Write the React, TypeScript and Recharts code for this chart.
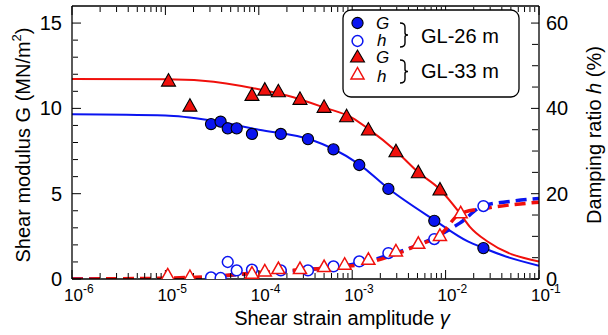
import { ComposedChart, Line, Scatter, XAxis, YAxis } from 'recharts'

const FONT = '"Liberation Sans", Arial, Helvetica, sans-serif'
const BLUE = '#0a14f0'
const RED = '#f0100c'

// strain axis (log), decades and minor marks
const strainTicks = [1e-6, 1e-5, 1e-4, 1e-3, 1e-2, 1e-1]
const minorSteps = [2, 3, 4, 5, 6, 7, 8, 9]
const strainMinor = strainTicks.slice(0, -1).flatMap((d) => minorSteps.map((m) => m * d))

const gTicks = [0, 5, 10, 15]
const gMinor = [1, 2, 3, 4, 6, 7, 8, 9, 11, 12, 13, 14]
const hTicks = [0, 20, 40, 60]
const hMinor = [5, 10, 15, 25, 30, 35, 45, 50, 55]

// GL-26 m measured points
const strain26 = [3.08e-5, 3.9e-5, 4.65e-5, 5.8e-5, 8.45e-5, 1.72e-4, 3.36e-4, 6.3e-4, 1.19e-3, 2.44e-3, 7.57e-3, 2.54e-2]
const g26 = [9.08, 9.22, 8.83, 8.83, 8.5, 8.5, 8.2, 7.6, 6.68, 5.28, 3.41, 1.81]
const h26 = [0.37, 0.23, 3.98, 2.01, 2.18, 2.01, 2.01, 2.95, 4.12, 6.08, 9.36, 17.1]

// GL-33 m measured points
const strain33G = [1.08e-5, 1.83e-5, 8.45e-5, 1.16e-4, 1.62e-4, 2.76e-4, 5.0e-4, 8.7e-4, 1.49e-3, 2.94e-3, 5.1e-3, 8.7e-3]
const g33 = [11.6, 10.13, 10.76, 11.07, 10.97, 10.53, 10.06, 9.51, 8.73, 7.46, 6.23, 5.22]
const strain33H = [1.06e-5, 1.83e-5, 8.45e-5, 1.16e-4, 1.62e-4, 2.76e-4, 5.0e-4, 8.3e-4, 1.49e-3, 2.94e-3, 5.1e-3, 8.7e-3, 1.45e-2]
const h33 = [0.84, 0.47, 1.24, 1.78, 2.34, 2.34, 2.81, 3.34, 4.51, 6.46, 8.26, 10.1, 15.4]

// fitted curves
const fitStrainG26 = [1e-6, 1e-5, 3e-5, 1e-4, 3.7e-4, 6.3e-4, 1.19e-3, 2.44e-3, 7.57e-3, 1.73e-2, 2.54e-2, 4.5e-2, 1e-1]
const fitG26 = [9.65, 9.58, 9.3, 8.75, 8.15, 7.62, 6.72, 5.3, 3.45, 2.2, 1.82, 1.3, 0.78]
const fitStrainG33 = [1e-6, 1e-5, 2.5e-5, 1e-4, 2e-4, 5e-4, 1e-3, 1.49e-3, 2.94e-3, 5.1e-3, 8.7e-3, 1.42e-2, 1.82e-2, 2.84e-2, 1e-1]
const fitG33 = [11.72, 11.7, 11.62, 11.12, 10.75, 10.05, 9.45, 8.8, 7.5, 6.25, 5.25, 3.86, 3.06, 2.18, 1.02]
const fitStrainH26 = [1e-6, 1e-5, 2.5e-5, 5e-5, 1e-4, 3e-4, 1e-3, 2.5e-3, 7.4e-3, 1.42e-2, 2.54e-2, 5e-2, 1e-1]
const fitH26 = [0, 0, 0.2, 0.9, 1.4, 2.1, 3.4, 5.6, 9.6, 13.1, 17.2, 18.2, 18.9]
const fitStrainH33 = [1e-6, 1e-5, 3e-5, 1e-4, 3e-4, 1e-3, 3e-3, 5e-3, 8.7e-3, 1.45e-2, 2.75e-2, 1e-1]
const fitH33 = [0, 0.2, 0.6, 1.5, 2.2, 3.1, 5.9, 7.9, 10.3, 15.4, 16.6, 18.0]

const pts = (xs: number[], ys: number[]) => xs.map((x, i) => ({ x, y: ys[i] }))

const FilledCircle = (p: any) => (
  <circle cx={p.cx} cy={p.cy} r={5.6} fill={BLUE} stroke="#000" strokeWidth={1.1} />
)
const OpenCircle = (p: any) => (
  <circle cx={p.cx} cy={p.cy} r={5.4} fill="#fff" stroke={BLUE} strokeWidth={1.5} />
)
const FilledTriangle = (p: any) => (
  <polygon
    points={`${p.cx},${p.cy - 7.5} ${p.cx - 7},${p.cy + 5} ${p.cx + 7},${p.cy + 5}`}
    fill={RED}
    stroke="#000"
    strokeWidth={1.1}
  />
)
const OpenTriangle = (p: any) => (
  <polygon
    points={`${p.cx},${p.cy - 7} ${p.cx - 6.5},${p.cy + 4.5} ${p.cx + 6.5},${p.cy + 4.5}`}
    fill="#fff"
    stroke={RED}
    strokeWidth={1.5}
  />
)

const NoLabel = () => <g />

// "10" sits on the tick, exponent hangs to the right
const StrainTick = ({ x, y, payload }: any) => {
  const exp = Math.round(Math.log10(payload.value))
  return (
    <text x={x - 8} y={y + 14} textAnchor="start" fontFamily={FONT} fontSize={17} fill="#000">
      <tspan>10</tspan>
      <tspan dy={-8} fontSize={12}>
        {String(exp)}
      </tspan>
    </text>
  )
}

const Brace = ({ y1, y2 }: { y1: number; y2: number }) => {
  const m = (y1 + y2) / 2
  return (
    <path
      d={`M400,${y1} Q405,${y1} 405,${y1 + 4} L405,${m - 2} Q405,${m} 408,${m} Q405,${m} 405,${m + 2} L405,${y2 - 4} Q405,${y2} 400,${y2}`}
      fill="none"
      stroke="#000"
      strokeWidth={1.4}
    />
  )
}

const inTick = { stroke: '#000', strokeWidth: 1 }

export default function App() {
  const tickStyle = { fill: '#000', fontSize: 20, fontFamily: FONT }
  return (
    <div style={{ position: 'absolute', left: 0, top: 0, width: 608, height: 335, background: '#fff' }}>
      <ComposedChart width={608} height={335} margin={{ top: 6, right: 0, bottom: 0, left: 0 }}>
        <XAxis
          xAxisId="main"
          dataKey="x"
          type="number"
          scale="log"
          domain={[1e-6, 1e-1]}
          allowDataOverflow
          ticks={strainTicks}
          interval={0}
          height={56}
          tickLine={false}
          axisLine={{ stroke: '#000', strokeWidth: 1.3 }}
          tick={<StrainTick />}
        />
        <XAxis xAxisId="bMaj" dataKey="x" type="number" scale="log" domain={[1e-6, 1e-1]} allowDataOverflow
          ticks={strainTicks} interval={0} mirror height={1} tick={NoLabel} axisLine={false} tickSize={9}
          tickLine={inTick} />
        <XAxis xAxisId="bMin" dataKey="x" type="number" scale="log" domain={[1e-6, 1e-1]} allowDataOverflow
          ticks={strainMinor} interval={0} mirror height={1} tick={NoLabel} axisLine={false} tickSize={5}
          tickLine={inTick} />
        <XAxis xAxisId="tMaj" orientation="top" dataKey="x" type="number" scale="log" domain={[1e-6, 1e-1]}
          allowDataOverflow ticks={strainTicks} interval={0} mirror height={1} tick={NoLabel}
          axisLine={{ stroke: '#000', strokeWidth: 1.3 }} tickSize={9} tickLine={inTick} />
        <XAxis xAxisId="tMin" orientation="top" dataKey="x" type="number" scale="log" domain={[1e-6, 1e-1]}
          allowDataOverflow ticks={strainMinor} interval={0} mirror height={1} tick={NoLabel} axisLine={false}
          tickSize={5} tickLine={inTick} />

        <YAxis
          yAxisId="G"
          dataKey="y"
          type="number"
          domain={[0, 16]}
          allowDataOverflow
          ticks={gTicks}
          interval={0}
          width={72}
          tickLine={false}
          tickMargin={4}
          axisLine={{ stroke: '#000', strokeWidth: 1.3 }}
          tick={tickStyle}
        />
        <YAxis yAxisId="gMaj" type="number" domain={[0, 16]} allowDataOverflow ticks={gTicks} interval={0}
          mirror width={1} tick={NoLabel} axisLine={false} tickSize={9} tickLine={inTick} />
        <YAxis yAxisId="gMin" type="number" domain={[0, 16]} allowDataOverflow ticks={gMinor} interval={0}
          mirror width={1} tick={NoLabel} axisLine={false} tickSize={5} tickLine={inTick} />
        <YAxis
          yAxisId="h"
          orientation="right"
          dataKey="y"
          type="number"
          domain={[0, 64]}
          allowDataOverflow
          ticks={hTicks}
          interval={0}
          width={69}
          tickLine={false}
          tickMargin={1}
          axisLine={{ stroke: '#000', strokeWidth: 1.3 }}
          tick={tickStyle}
        />
        <YAxis yAxisId="hMaj" orientation="right" type="number" domain={[0, 64]} allowDataOverflow ticks={hTicks}
          interval={0} mirror width={1} tick={NoLabel} axisLine={false} tickSize={8} tickLine={inTick} />
        <YAxis yAxisId="hMin" orientation="right" type="number" domain={[0, 64]} allowDataOverflow ticks={hMinor}
          interval={0} mirror width={1} tick={NoLabel} axisLine={false} tickSize={6} tickLine={inTick} />

        <Line xAxisId="main" yAxisId="G" data={pts(fitStrainG33, fitG33)} dataKey="y" type="monotone"
          stroke={RED} strokeWidth={2} dot={false} isAnimationActive={false} />
        <Line xAxisId="main" yAxisId="G" data={pts(fitStrainG26, fitG26)} dataKey="y" type="monotone"
          stroke={BLUE} strokeWidth={2} dot={false} isAnimationActive={false} />
        <Line xAxisId="main" yAxisId="h" data={pts(fitStrainH26, fitH26)} dataKey="y" type="monotone"
          stroke={BLUE} strokeWidth={3.5} strokeDasharray="11 6" dot={false} isAnimationActive={false} />
        <Line xAxisId="main" yAxisId="h" data={pts(fitStrainH33, fitH33)} dataKey="y" type="monotone"
          stroke={RED} strokeWidth={3.5} strokeDasharray="11 6" dot={false} isAnimationActive={false} />

        <Scatter xAxisId="main" yAxisId="h" data={pts(strain26, h26)} shape={OpenCircle} isAnimationActive={false} />
        <Scatter xAxisId="main" yAxisId="h" data={pts(strain33H, h33)} shape={OpenTriangle} isAnimationActive={false} />
        <Scatter xAxisId="main" yAxisId="G" data={pts(strain26, g26)} shape={FilledCircle} isAnimationActive={false} />
        <Scatter xAxisId="main" yAxisId="G" data={pts(strain33G, g33)} shape={FilledTriangle} isAnimationActive={false} />
      </ComposedChart>

      <svg width={608} height={335} style={{ position: 'absolute', left: 0, top: 0, pointerEvents: 'none' }}>
        <g fontFamily={FONT} fill="#000">
          <text x={342} y={325} textAnchor="middle" fontSize={20}>
            Shear strain amplitude <tspan fontStyle="italic">γ</tspan>
          </text>
          <text transform="translate(23,145) rotate(-90)" textAnchor="middle" dominantBaseline="central" fontSize={20}>
            Shear modulus G (MN/m<tspan dy={-7} fontSize={13}>2</tspan>
            <tspan dy={7}>)</tspan>
          </text>
          <text transform="translate(594,135) rotate(-90)" textAnchor="middle" dominantBaseline="central" fontSize={20}>
            Damping ratio <tspan fontStyle="italic">h</tspan> (%)
          </text>
        </g>

        <rect x={343} y={10} width={176} height={87} rx={8} fill="#fff" stroke="#000" strokeWidth={1.3} />
        <circle cx={357.5} cy={23} r={5.6} fill={BLUE} stroke="#000" strokeWidth={1.1} />
        <circle cx={357.5} cy={41} r={5.4} fill="#fff" stroke={BLUE} strokeWidth={1.5} />
        <polygon points="357.5,50 350.5,62 364.5,62" fill={RED} stroke="#000" strokeWidth={1.1} />
        <polygon points="357.5,67.5 351,79 364,79" fill="#fff" stroke={RED} strokeWidth={1.5} />
        <g fontFamily={FONT} fill="#000" fontSize={17} fontStyle="italic">
          <text x={376} y={29}>G</text>
          <text x={377} y={46}>h</text>
          <text x={376} y={63}>G</text>
          <text x={377} y={82}>h</text>
        </g>
        <Brace y1={23} y2={47} />
        <Brace y1={60} y2={83} />
        <g fontFamily={FONT} fill="#000" fontSize={20}>
          <text x={421} y={43}>GL-26 m</text>
          <text x={421} y={78}>GL-33 m</text>
        </g>
      </svg>
    </div>
  )
}
